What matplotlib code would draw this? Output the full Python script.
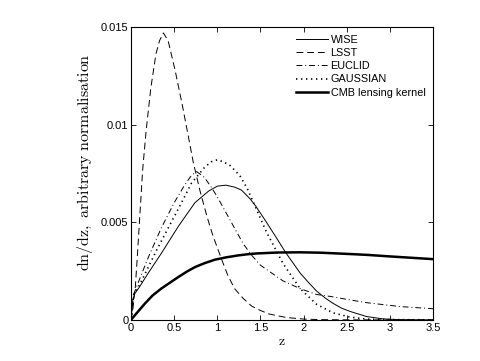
import matplotlib
matplotlib.use("Agg")
import matplotlib.pyplot as plt

plt.rcParams['mathtext.fontset'] = 'cm'
plt.rcParams['font.family'] = ['Liberation Sans', 'DejaVu Sans']

# values
z_wise = [0, 0.02, 0.04, 0.1, 0.2, 0.35, 0.55, 0.74, 0.9, 1.0, 1.1, 1.2, 1.28, 1.38, 1.45, 1.57,
          1.7, 1.8, 1.96, 2.06, 2.15, 2.25, 2.34, 2.44, 2.54, 2.73, 2.92, 3.1, 3.5]
n_wise = [0, 0.0010, 0.00132, 0.0017, 0.0024, 0.0034, 0.0048, 0.0060, 0.0066, 0.00685, 0.0069,
          0.0068, 0.00665, 0.0062, 0.0058, 0.0050, 0.0041, 0.0034, 0.0024, 0.0019, 0.00148,
          0.00112, 0.00085, 0.0006, 0.00043, 0.00017, 0.00005, 0.00001, 0]

z_lsst = [0, 0.02, 0.05, 0.075, 0.1, 0.135, 0.175, 0.23, 0.29, 0.33, 0.375, 0.43, 0.51, 0.59,
          0.66, 0.72, 0.8, 0.88, 0.95, 1.05, 1.12, 1.2, 1.3, 1.4, 1.5, 1.6, 1.8, 2.0, 2.2, 2.5, 3.0, 3.5]
n_lsst = [0, 0.0005, 0.0017, 0.0034, 0.0052, 0.0077, 0.0097, 0.0119, 0.01365, 0.0143,
          0.0147, 0.0143, 0.0128, 0.0111, 0.0095, 0.0081, 0.0066, 0.0053, 0.0043, 0.0031,
          0.0023, 0.0016, 0.0011, 0.0007, 0.00048, 0.0003, 0.00012, 0.00004, 0.00001, 0, 0, 0]

z_euclid = [0, 0.03, 0.1, 0.2, 0.35, 0.5, 0.62, 0.7, 0.76, 0.85, 0.93, 1.0, 1.1, 1.2, 1.3, 1.4,
            1.5, 1.76, 1.96, 2.15, 2.31, 2.5, 2.73, 3.12, 3.5]
n_euclid = [0, 0.0013, 0.0021, 0.0032, 0.0047, 0.0060, 0.0069, 0.0074, 0.0076, 0.0073, 0.0068,
            0.0063, 0.0055, 0.0047, 0.0039, 0.0033, 0.0028, 0.0020, 0.0016, 0.0013, 0.0012,
            0.00105, 0.00088, 0.00068, 0.00057]

z_gauss = [0, 0.03, 0.1, 0.2, 0.3, 0.43, 0.55, 0.7, 0.85, 0.93, 1.0, 1.07, 1.15, 1.26, 1.35, 1.45,
           1.57, 1.76, 1.96, 2.15, 2.34, 2.54, 2.73, 3.0, 3.5]
n_gauss = [0, 0.0013, 0.0018, 0.0027, 0.0036, 0.0047, 0.0057, 0.0070, 0.0078, 0.0081, 0.0082,
           0.0081, 0.0079, 0.0074, 0.0067, 0.0057, 0.0045, 0.0029, 0.0016, 0.0008, 0.00036,
           0.00014, 0.00004, 0.00001, 0]

z_cmb = [0, 0.08, 0.16, 0.25, 0.35, 0.45, 0.55, 0.65, 0.74, 0.85, 0.97, 1.1, 1.24, 1.35, 1.45,
         1.7, 1.96, 2.2, 2.5, 2.73, 3.0, 3.25, 3.5]
n_cmb = [0, 0.00042, 0.00083, 0.00125, 0.0016, 0.0019, 0.0022, 0.00248, 0.0027, 0.0029,
         0.00308, 0.0032, 0.0033, 0.00336, 0.0034, 0.00345, 0.00346, 0.00344, 0.00338,
         0.00333, 0.00325, 0.00318, 0.00311]

fig = plt.figure(figsize=(4.8, 3.61), dpi=100)
ax = fig.add_axes([0.273, 0.114, 0.629, 0.811])

ax.plot(z_wise, n_wise, color='k', lw=0.7, label='WISE')
ax.plot(z_lsst, n_lsst, color='k', lw=0.7, dashes=(7, 4), label='LSST')
ax.plot(z_euclid, n_euclid, color='k', lw=0.7, dashes=(6, 3, 1, 3), label='EUCLID')
ax.plot(z_gauss, n_gauss, color='k', lw=1.2, dashes=(0.8, 2.2), label='GAUSSIAN')
ax.plot(z_cmb, n_cmb, color='k', lw=1.8, label='CMB lensing kernel')

ax.set_xlim(0, 3.5)
ax.set_ylim(0, 0.015)
ax.set_xticks([0, 0.5, 1, 1.5, 2, 2.5, 3, 3.5])
ax.set_xticklabels(['0', '0.5', '1', '1.5', '2', '2.5', '3', '3.5'])
ax.set_yticks([0, 0.005, 0.01, 0.015])
ax.set_yticklabels(['0', '0.005', '0.01', '0.015'])
ax.tick_params(direction='in', top=True, right=True, length=3.5, width=0.6, labelsize=8, pad=2)
for s in ax.spines.values():
    s.set_linewidth(0.8)

ax.set_xlabel(r'$\mathrm{z}$', fontsize=10, labelpad=1)
ax.set_ylabel(r'$\mathrm{dn/dz,\ arbitrary\ normalisation}$', fontsize=11.5)
ax.yaxis.set_label_coords(-0.12, 0.54)

ax.legend(loc='upper right', frameon=False, fontsize=7.8, handlelength=2.9, handletextpad=0.25,
          labelspacing=0.3, borderaxespad=0.3)

fig.savefig('out.png', dpi=100)
